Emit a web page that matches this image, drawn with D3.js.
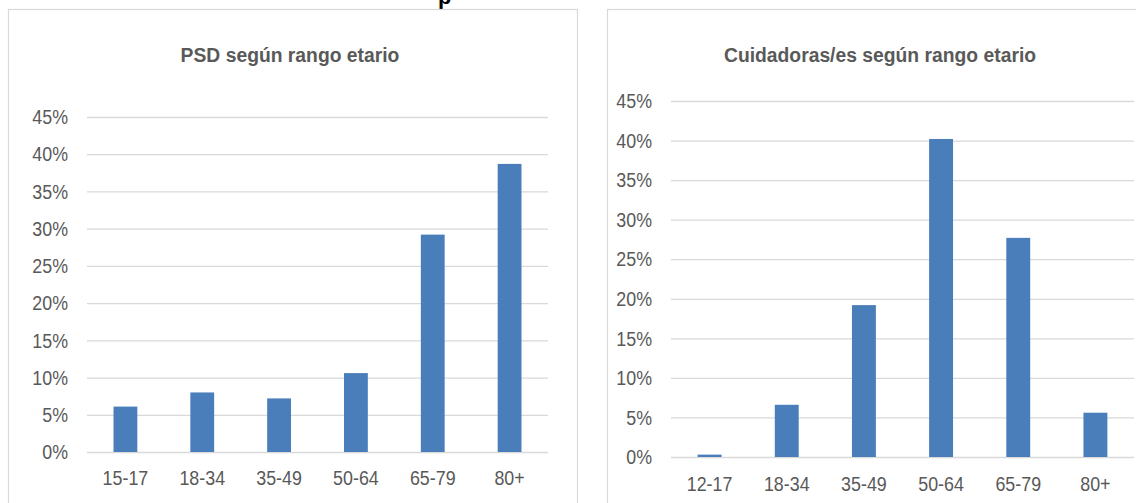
<!DOCTYPE html>
<html><head><meta charset="utf-8">
<script src="https://cdn.jsdelivr.net/npm/d3@7"></script>
<style>
html,body{margin:0;padding:0;background:#fff;}
svg{display:block;}
text{font-family:"Liberation Sans",Arial,sans-serif;}
</style></head>
<body>
<svg id="c" width="1136" height="503"></svg>
<script>
const psdCategories = ["15-17","18-34","35-49","50-64","65-79","80+"];
const psdValues = [6.1, 8.0, 7.2, 10.6, 29.2, 38.7];
const cuidCategories = ["12-17","18-34","35-49","50-64","65-79","80+"];
const cuidValues = [0.3, 6.6, 19.2, 40.2, 27.7, 5.6];
const yTicks = [0,5,10,15,20,25,30,35,40,45];
const titles = ["PSD según rango etario","Cuidadoras/es según rango etario"];

const svg = d3.select("#c");
const BAR = "#4a7ebb", GRID = "#d9d9d9", TXT = "#595959";
const SX = 0.85;   // condensed look of the original font

// fragment of a heading cut off above the picture
svg.append("text").attr("x",438).attr("y",4).attr("font-size",22).attr("font-weight","bold")
  .attr("fill","#000").text("p");

function panel(cfg){
  const g = svg.append("g");
  g.append("rect").attr("x",cfg.px).attr("y",cfg.py).attr("width",cfg.pw).attr("height",cfg.ph)
    .attr("fill","#fff").attr("stroke",GRID).attr("stroke-width",1.2);
  const x = d3.scaleBand().domain(cfg.cats).range([cfg.x0,cfg.x1]).paddingInner(0.69).paddingOuter(0.345);
  const y = d3.scaleLinear().domain([0,45]).range([cfg.y0,cfg.y1]);
  g.append("g").attr("transform",`translate(${cfg.tx},${cfg.ty}) scale(0.92,1)`)
    .append("text").attr("text-anchor","middle")
    .attr("font-size",21).attr("font-weight","bold").attr("fill",TXT).text(cfg.title);
  const pad = cfg.x0-cfg.lx;
  const ya = d3.axisLeft(y).tickValues(yTicks).tickSize(-(cfg.x1-cfg.x0)).tickPadding(pad)
    .tickFormat(d=>d+"%");
  const yg = g.append("g").attr("transform",`translate(${cfg.x0},0)`).call(ya);
  yg.select(".domain").remove();
  yg.selectAll(".tick line").attr("stroke",GRID).attr("stroke-width",1.3);
  yg.selectAll(".tick text").attr("font-size",21).attr("fill",TXT).attr("font-family",null)
    .attr("x",-pad/SX).attr("transform",`scale(${SX},1)`);
  g.selectAll(".bar").data(cfg.vals).join("rect")
    .attr("x",(d,i)=>x(cfg.cats[i])).attr("width",x.bandwidth())
    .attr("y",d=>y(d)).attr("height",d=>y(0)-y(d)).attr("fill",BAR);
  const xa = d3.axisBottom(x).tickSize(0).tickPadding(cfg.xlPad);
  const xg = g.append("g").attr("transform",`translate(0,${cfg.y0})`).call(xa);
  xg.select(".domain").remove();
  xg.selectAll(".tick text").attr("font-size",21).attr("fill",TXT).attr("font-family",null)
    .attr("transform",`scale(${SX},1)`);
}

panel({px:8.5,py:9.5,pw:569,ph:520,x0:87,x1:548,y0:452,y1:117,lx:68,tx:290,ty:62,
  cats:psdCategories,vals:psdValues,title:titles[0],xlPad:18});
panel({px:607.5,py:9.5,pw:600,ph:520,x0:671,x1:1134,y0:457,y1:101,lx:652,tx:880,ty:62,
  cats:cuidCategories,vals:cuidValues,title:titles[1],xlPad:19});
</script>
</body></html>
